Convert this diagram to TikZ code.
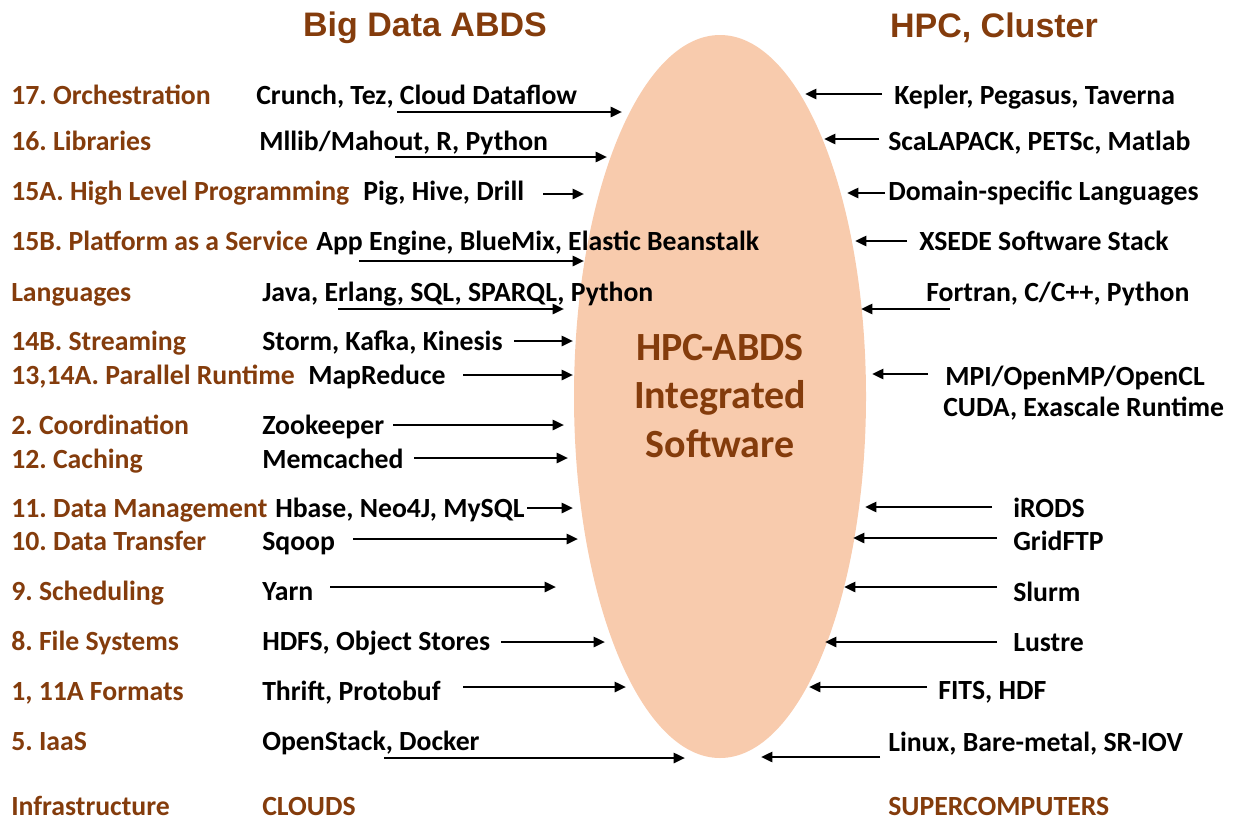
\documentclass[tikz,border=0pt]{standalone}
\usepackage{fontspec}
\setmainfont{Carlito}
\newfontfamily\titlefont{Liberation Sans}
\usetikzlibrary{arrows.meta,shapes.geometric}
\definecolor{brownish}{RGB}{132,60,12}
\definecolor{peach}{RGB}{248,203,173}
\frenchspacing
\tikzset{
  lbl/.style={anchor=mid west,inner sep=0pt,yshift=-4.5pt,text=brownish,font=\fontsize{20.8}{24}\selectfont\bfseries},
  sw/.style={anchor=mid west,inner sep=0pt,yshift=-4.5pt,text=black,font=\fontsize{20.8}{24}\selectfont\bfseries},
  hdr/.style={inner sep=0pt,yshift=-2.25pt,text=brownish,font=\fontsize{25.5}{30}\selectfont\titlefont\bfseries},
  arr/.style={line width=1.9pt,-{Triangle[length=8.5pt,width=7.5pt]}}
}
\begin{document}
\begin{tikzpicture}[x=0.75pt,y=-0.75pt]
  \useasboundingbox (0,0) rectangle (1234,821);
  % the core
  \node[ellipse,fill=peach,minimum width=219pt,minimum height=542.25pt,inner sep=0pt] (core) at (720,396.5) {};
  \node[align=center,text=brownish,font=\fontsize{30}{36.6}\selectfont\bfseries] (hpcabds) at (720,396) {HPC-ABDS\\Integrated\\Software};
  \node[hdr] (bigdata) at (425,25) {Big Data ABDS};
  \node[hdr] (hpc) at (994,25) {HPC, Cluster};
  % layer names
  \node[lbl] (l17) at (11,95) {17. Orchestration};
  \node[lbl] (l16) at (11,141) {16. Libraries};
  \node[lbl] (l15a) at (11,191) {15A. High Level Programming};
  \node[lbl] (l15b) at (11,241) {15B. Platform as a Service};
  \node[lbl] (llang) at (11,292) {Languages};
  \node[lbl] (l14b) at (11,341) {14B. Streaming};
  \node[lbl] (l13) at (11,375) {13,14A. Parallel Runtime};
  \node[lbl] (l2) at (11,425) {2. Coordination};
  \node[lbl] (l12) at (11,459) {12. Caching};
  \node[lbl] (l11) at (11,508) {11. Data Management};
  \node[lbl] (l10) at (11,541) {10. Data Transfer};
  \node[lbl] (l9) at (11,591) {9. Scheduling};
  \node[lbl] (l8) at (11,641) {8. File Systems};
  \node[lbl] (l1) at (11,691) {1, 11A Formats};
  \node[lbl] (l5) at (11,741) {5. IaaS};
  \node[lbl] (linfra) at (11,806) {Infrastructure};
  % big data software
  \node[sw] (b17) at (256,95) {Crunch, Tez, Cloud Dataflow};
  \node[sw] (b16) at (259,141) {Mllib/Mahout, R, Python};
  \node[sw] (b15a) at (363,191) {Pig, Hive, Drill};
  \node[sw] (b15b) at (316,241) {App Engine, BlueMix, Elastic Beanstalk};
  \node[sw] (blang) at (262,292) {Java, Erlang, SQL, SPARQL, Python};
  \node[sw] (b14b) at (262,341) {Storm, Kafka, Kinesis};
  \node[sw] (b13) at (308,375) {MapReduce};
  \node[sw] (b2) at (262,425) {Zookeeper};
  \node[sw] (b12) at (262,459) {Memcached};
  \node[sw] (b11) at (275,508) {Hbase, Neo4J, MySQL};
  \node[sw] (b10) at (262,541) {Sqoop};
  \node[sw] (b9) at (262,591) {Yarn};
  \node[sw] (b8) at (262,641) {HDFS, Object Stores};
  \node[sw] (b1) at (262,691) {Thrift, Protobuf};
  \node[sw] (b5) at (262,741) {OpenStack, Docker};
  \node[lbl] (bclouds) at (262,806) {CLOUDS};
  % hpc software
  \node[sw] (h17) at (894,95) {Kepler, Pegasus, Taverna};
  \node[sw] (h16) at (888,141) {ScaLAPACK, PETSc, Matlab};
  \node[sw] (h15a) at (888,191) {Domain-specific Languages};
  \node[sw] (h15b) at (919,241) {XSEDE Software Stack};
  \node[sw] (hlang) at (926,292) {Fortran, C/C++, Python};
  \node[sw] (h13) at (945,376) {MPI/OpenMP/OpenCL};
  \node[sw] (h13b) at (943,407) {CUDA, Exascale Runtime};
  \node[sw] (h11) at (1013,508) {iRODS};
  \node[sw] (h10) at (1013,541) {GridFTP};
  \node[sw] (h9) at (1013,592) {Slurm};
  \node[sw] (h8) at (1013,642) {Lustre};
  \node[sw] (h1) at (938,690) {FITS, HDF};
  \node[sw] (h5) at (888,742) {Linux, Bare-metal, SR-IOV};
  \node[lbl] (hsuper) at (888,806) {SUPERCOMPUTERS};
  % arrow ends, left
  \coordinate (s17) at (397,112);  \coordinate (e17) at (622,112);
  \coordinate (s16) at (395,157);  \coordinate (e16) at (607,157);
  \coordinate (s15a) at (543,194); \coordinate (e15a) at (584,194);
  \coordinate (s15b) at (359,261); \coordinate (e15b) at (584,261);
  \coordinate (slang) at (338,309); \coordinate (elang) at (564,309);
  \coordinate (s14b) at (514,341); \coordinate (e14b) at (573,341);
  \coordinate (s13) at (463,375);  \coordinate (e13) at (573,375);
  \coordinate (s2) at (393,425);   \coordinate (e2) at (564,425);
  \coordinate (s12) at (414,458);  \coordinate (e12) at (568,458);
  \coordinate (s11) at (527,508);  \coordinate (e11) at (573,508);
  \coordinate (s10) at (353,539);  \coordinate (e10) at (578,539);
  \coordinate (s9) at (330,587);   \coordinate (e9) at (556,587);
  \coordinate (s8) at (501,642);   \coordinate (e8) at (605,642);
  \coordinate (s1) at (463,687);   \coordinate (e1) at (626,687);
  \coordinate (s5) at (384,758);   \coordinate (e5) at (685,758);
  % arrow ends, right
  \coordinate (r17) at (882,94);   \coordinate (f17) at (805,94);
  \coordinate (r16) at (879,139);  \coordinate (f16) at (824,139);
  \coordinate (r15a) at (885,193); \coordinate (f15a) at (847,193);
  \coordinate (r15b) at (907,241); \coordinate (f15b) at (855,241);
  \coordinate (rlang) at (950,309); \coordinate (flang) at (861,309);
  \coordinate (r13) at (928,374);  \coordinate (f13) at (872,374);
  \coordinate (r11) at (992,507);  \coordinate (f11) at (865,507);
  \coordinate (r10) at (997,538);  \coordinate (f10) at (853,538);
  \coordinate (r9) at (997,587);   \coordinate (f9) at (844,587);
  \coordinate (r8) at (997,642);   \coordinate (f8) at (825,642);
  \coordinate (r1) at (927,687);   \coordinate (f1) at (809,687);
  \coordinate (r5) at (880,757);   \coordinate (f5) at (761,757);
  \draw[arr] (s17) -- (e17);
  \draw[arr] (s16) -- (e16);
  \draw[arr] (s15a) -- (e15a);
  \draw[arr] (s15b) -- (e15b);
  \draw[arr] (slang) -- (elang);
  \draw[arr] (s14b) -- (e14b);
  \draw[arr] (s13) -- (e13);
  \draw[arr] (s2) -- (e2);
  \draw[arr] (s12) -- (e12);
  \draw[arr] (s11) -- (e11);
  \draw[arr] (s10) -- (e10);
  \draw[arr] (s9) -- (e9);
  \draw[arr] (s8) -- (e8);
  \draw[arr] (s1) -- (e1);
  \draw[arr] (s5) -- (e5);
  \draw[arr] (r17) -- (f17);
  \draw[arr] (r16) -- (f16);
  \draw[arr] (r15a) -- (f15a);
  \draw[arr] (r15b) -- (f15b);
  \draw[arr] (rlang) -- (flang);
  \draw[arr] (r13) -- (f13);
  \draw[arr] (r11) -- (f11);
  \draw[arr] (r10) -- (f10);
  \draw[arr] (r9) -- (f9);
  \draw[arr] (r8) -- (f8);
  \draw[arr] (r1) -- (f1);
  \draw[arr] (r5) -- (f5);
\end{tikzpicture}
\end{document}
